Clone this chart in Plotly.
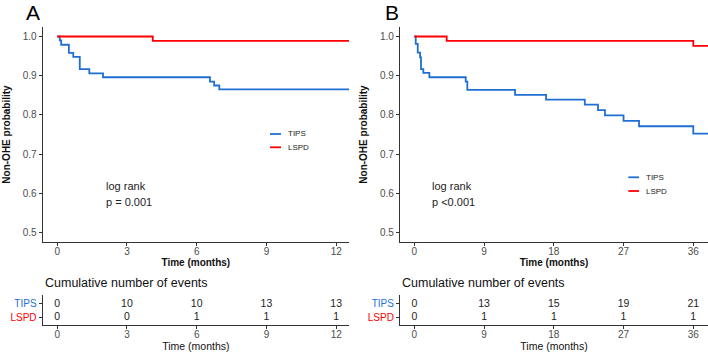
import plotly.graph_objects as go

# ---------------- data ----------------
a_tips_t = [0, 0.11, 0.17, 0.50, 0.69, 0.97, 1.38, 1.97, 6.57, 6.75, 6.97, 12.55]
a_tips_s = [1.0, 0.990, 0.979, 0.958, 0.948, 0.917, 0.906, 0.896, 0.885, 0.875, 0.865, 0.865]
a_lspd_t = [0, 4.11, 12.55]
a_lspd_s = [1.0, 0.989, 0.989]

b_tips_t = [0, 0.18, 0.44, 0.74, 0.86, 1.16, 1.94, 6.63, 6.84, 13.0, 17.0, 22.0, 23.7, 24.6, 27.0, 29.0, 36.0, 37.9]
b_tips_s = [1.0, 0.981, 0.959, 0.947, 0.917, 0.907, 0.896, 0.885, 0.864, 0.851, 0.839, 0.826, 0.812, 0.799, 0.785, 0.771, 0.752, 0.752]
b_lspd_t = [0, 4.18, 36.0, 37.9]
b_lspd_s = [1.0, 0.989, 0.976, 0.976]

a_ticks = [0, 3, 6, 9, 12]
b_ticks = [0, 9, 18, 27, 36]
y_ticks = [0.5, 0.6, 0.7, 0.8, 0.9, 1.0]
groups = ["TIPS", "LSPD"]
a_events_tips = [0, 10, 10, 13, 13]
a_events_lspd = [0, 0, 1, 1, 1]
b_events_tips = [0, 13, 15, 19, 21]
b_events_lspd = [0, 1, 1, 1, 1]
p_text_a = "p = 0.001"
p_text_b = "p <0.001"

# ---------------- style ----------------
W, H = 708, 354
BLUE = "#1F6FD3"
RED = "#FF0000"
FONT = "Liberation Sans, Arial, sans-serif"
TICKC = "#4D4D4D"
AXC = "#333333"

def fx(x):
    return x / W

def fy(y):
    return 1 - y / H

fig = go.Figure()

def add_curve(t, s, color, xa, ya):
    fig.add_trace(go.Scatter(x=t, y=s, mode="lines", line=dict(color=color, width=1.8, shape="hv"),
                             xaxis=xa, yaxis=ya, showlegend=False, hoverinfo="skip"))

add_curve(a_tips_t, a_tips_s, BLUE, "x", "y")
add_curve(a_lspd_t, a_lspd_s, RED, "x", "y")
add_curve(b_tips_t, b_tips_s, BLUE, "x2", "y2")
add_curve(b_lspd_t, b_lspd_s, RED, "x2", "y2")

def add_table(ticks, ev_tips, ev_lspd, xa, ya):
    fig.add_trace(go.Scatter(x=ticks, y=[2] * len(ticks), mode="text", text=[str(v) for v in ev_tips],
                             textfont=dict(size=10.5, color="#222222", family=FONT),
                             xaxis=xa, yaxis=ya, showlegend=False, hoverinfo="skip"))
    fig.add_trace(go.Scatter(x=ticks, y=[1] * len(ticks), mode="text", text=[str(v) for v in ev_lspd],
                             textfont=dict(size=10.5, color="#222222", family=FONT),
                             xaxis=xa, yaxis=ya, showlegend=False, hoverinfo="skip"))

add_table(a_ticks, a_events_tips, a_events_lspd, "x3", "y3")
add_table(b_ticks, b_events_tips, b_events_lspd, "x4", "y4")

main_y = [fy(242.3), fy(26.7)]
risk_y = [fy(325), fy(295)]
dom_a = [fx(42.7), fx(349)]
dom_b = [fx(400), fx(708)]
range_a = [-0.625, 12.55]
range_b = [-1.85, 37.9]

def xaxis(dom, rng, ticks, anchor, title, bold):
    t = "<b>%s</b>" % title if bold else title
    return dict(domain=dom, range=rng, anchor=anchor, tickvals=ticks, showgrid=False, zeroline=False,
                showline=True, linecolor=AXC, linewidth=1.2, ticks="outside", ticklen=3, tickcolor=AXC,
                ticklabelstandoff=-3,
                tickfont=dict(size=10, color=TICKC, family=FONT),
                title=dict(text=t, font=dict(size=10 if bold else 10.5, color="#111111", family=FONT), standoff=1))

def yaxis_main(dom, anchor):
    return dict(domain=dom, range=[0.475, 1.025], anchor=anchor, tickvals=y_ticks,
                ticktext=["%.1f" % v for v in y_ticks], showgrid=False, zeroline=False,
                showline=True, linecolor=AXC, linewidth=1.2, ticks="outside", ticklen=3, tickcolor=AXC,
                tickfont=dict(size=10, color=TICKC, family=FONT),
                title=dict(text="<b>Non-OHE probability</b>", font=dict(size=10, color="#111111", family=FONT), standoff=10))

def yaxis_risk(dom, anchor):
    return dict(domain=dom, range=[0.45, 2.65], anchor=anchor, tickvals=[2, 1],
                ticktext=["<span style='color:%s'>%s</span>" % (BLUE, groups[0]),
                          "<span style='color:%s'>%s</span>" % (RED, groups[1])],
                showgrid=False, zeroline=False, showline=True, linecolor=AXC, linewidth=1.2,
                ticks="outside", ticklen=3, tickcolor=AXC, tickfont=dict(size=10, family=FONT))

fig.update_layout(
    width=W, height=H, margin=dict(l=0, r=0, t=0, b=0),
    paper_bgcolor="white", plot_bgcolor="white", showlegend=False,
    font=dict(family=FONT),
    xaxis=xaxis(dom_a, range_a, a_ticks, "y", "Time (months)", True),
    yaxis=yaxis_main(main_y, "x"),
    xaxis2=xaxis(dom_b, range_b, b_ticks, "y2", "Time (months)", True),
    yaxis2=yaxis_main(main_y, "x2"),
    xaxis3=xaxis(dom_a, range_a, a_ticks, "y3", "Time (months)", False),
    yaxis3=yaxis_risk(risk_y, "x3"),
    xaxis4=xaxis(dom_b, range_b, b_ticks, "y4", "Time (months)", False),
    yaxis4=yaxis_risk(risk_y, "x4"),
)

ann = []
for lab, xc in [("A", 32.5), ("B", 391.5)]:
    ann.append(dict(text=lab, x=fx(xc), y=fy(12), xref="paper", yref="paper", showarrow=False,
                    xanchor="center", yanchor="middle", font=dict(size=21, color="black", family=FONT)))
for xr, yr, p in [("x", "y", p_text_a), ("x2", "y2", p_text_b)]:
    ann.append(dict(text="log rank", x=2, y=0.619, xref=xr, yref=yr, xanchor="left", yanchor="middle",
                    showarrow=False, font=dict(size=11, color="#222222", family=FONT)))
    ann.append(dict(text=p, x=2, y=0.577, xref=xr, yref=yr, xanchor="left", yanchor="middle",
                    showarrow=False, font=dict(size=11, color="#222222", family=FONT)))
for xl in [43, 400]:
    ann.append(dict(text="Cumulative number of events", x=fx(xl), y=fy(283.3), xref="paper", yref="paper",
                    xanchor="left", yanchor="middle", showarrow=False,
                    font=dict(size=12.5, color="#111111", family=FONT)))

shapes = []
legend_spots = [(270, 281, 286, 134, 147.3), (628.3, 639, 644, 177.3, 191)]
for x0, x1, xt, y_t, y_l in legend_spots:
    for yy, col, name in [(y_t, BLUE, groups[0]), (y_l, RED, groups[1])]:
        shapes.append(dict(type="line", xref="paper", yref="paper", x0=fx(x0), x1=fx(x1), y0=fy(yy), y1=fy(yy),
                           line=dict(color=col, width=1.8)))
        ann.append(dict(text=name, x=fx(xt), y=fy(yy), xref="paper", yref="paper", xanchor="left",
                        yanchor="middle", showarrow=False, font=dict(size=8, color="#222222", family=FONT)))

fig.update_layout(annotations=ann, shapes=shapes)
fig.write_html("out.html", config={"displayModeBar": False},
               post_script="document.body.style.margin='0px';")
